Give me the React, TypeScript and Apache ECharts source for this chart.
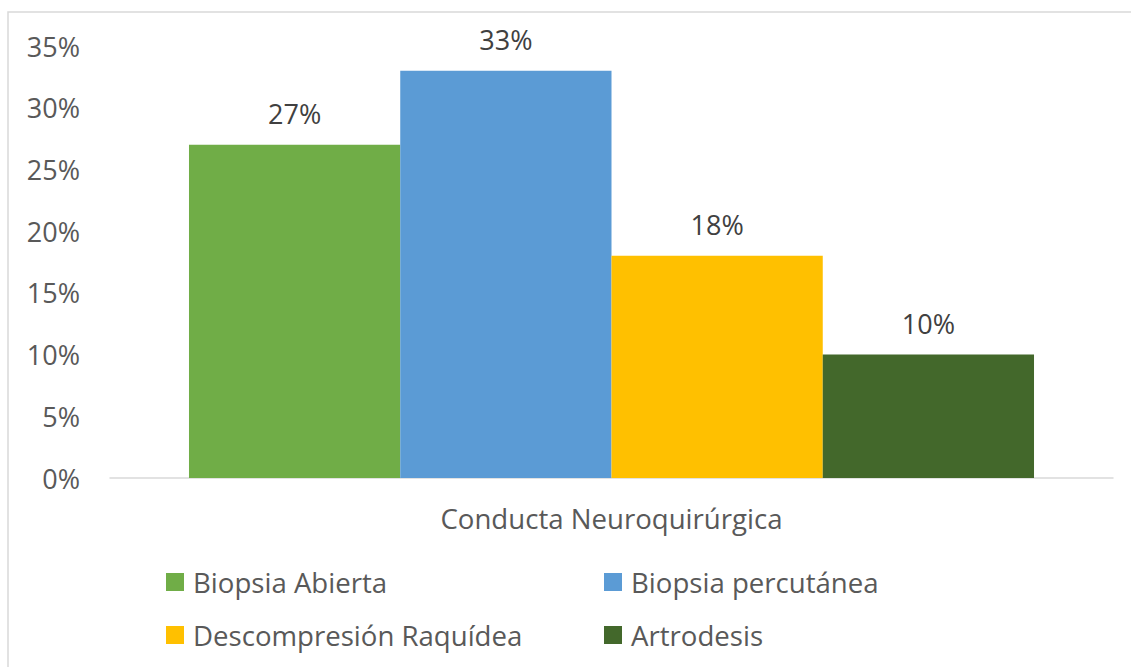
import React, { useEffect, useRef } from "react";
import * as echarts from "echarts";

const categories = ["Conducta Neuroquirúrgica"];
const seriesNames = ["Biopsia Abierta", "Biopsia percutánea", "Descompresión Raquídea", "Artrodesis"];
const seriesValues = [[27], [33], [18], [10]];
const seriesColors = ["#70AD47", "#5B9BD5", "#FFC000", "#43682B"];
const yTicks = { min: 0, max: 35, interval: 5 };

const FONT = "Open Sans";
const FS_NUM = 27;
const FS_TXT = 27.6;

export default function App() {
  const ref = useRef<HTMLDivElement>(null);
  useEffect(() => {
    if (!ref.current) return;
    const chart = echarts.init(ref.current, undefined, { renderer: "svg" });
    const legendPos = [
      { left: 161, top: 563 },
      { left: 599, top: 563 },
      { left: 161, top: 616 },
      { left: 599, top: 616 },
    ];
    chart.setOption({
      animation: false,
      backgroundColor: "#ffffff",
      textStyle: { fontFamily: FONT },
      graphic: [
        {
          type: "rect",
          shape: { x: 8, y: 12, width: 1200, height: 800 },
          style: { fill: "none", stroke: "#D9D9D9", lineWidth: 1.5 },
          silent: true,
        },
      ],
      grid: { left: 110, right: 18, top: 46, bottom: 189, containLabel: false },
      legend: seriesNames.map((n, i) => ({
        data: [n],
        left: legendPos[i].left,
        top: legendPos[i].top,
        icon: "rect",
        itemWidth: 18,
        itemHeight: 18,
        itemGap: 0,
        textStyle: { fontFamily: FONT, fontSize: FS_TXT, color: "#595959", padding: [0, 0, 0, 4] },
        selectedMode: false,
      })),
      xAxis: {
        type: "category",
        data: categories,
        axisLine: { lineStyle: { color: "#D9D9D9", width: 1.5 } },
        axisTick: { show: false },
        axisLabel: { fontFamily: FONT, fontSize: FS_TXT, color: "#595959", margin: 26 },
      },
      yAxis: {
        type: "value",
        min: yTicks.min,
        max: yTicks.max,
        interval: yTicks.interval,
        axisLine: { show: false },
        axisTick: { show: false },
        splitLine: { show: false },
        axisLabel: {
          fontFamily: FONT,
          fontSize: FS_NUM,
          color: "#595959",
          margin: 30,
          formatter: (v: number) => `${v}%`,
        },
      },
      series: seriesNames.map((n, i) => ({
        name: n,
        type: "bar",
        data: seriesValues[i],
        itemStyle: { color: seriesColors[i] },
        barGap: "0%",
        barCategoryGap: "15.75%",
        label: {
          show: true,
          position: "top",
          distance: 18,
          fontFamily: FONT,
          fontSize: FS_NUM,
          color: "#404040",
          formatter: (p: any) => `${p.value}%`,
        },
      })),
    });
    return () => chart.dispose();
  }, []);
  return (
    <div
      ref={ref}
      style={{ position: "fixed", left: 0, top: 0, width: 1131, height: 667 }}
    />
  );
}
